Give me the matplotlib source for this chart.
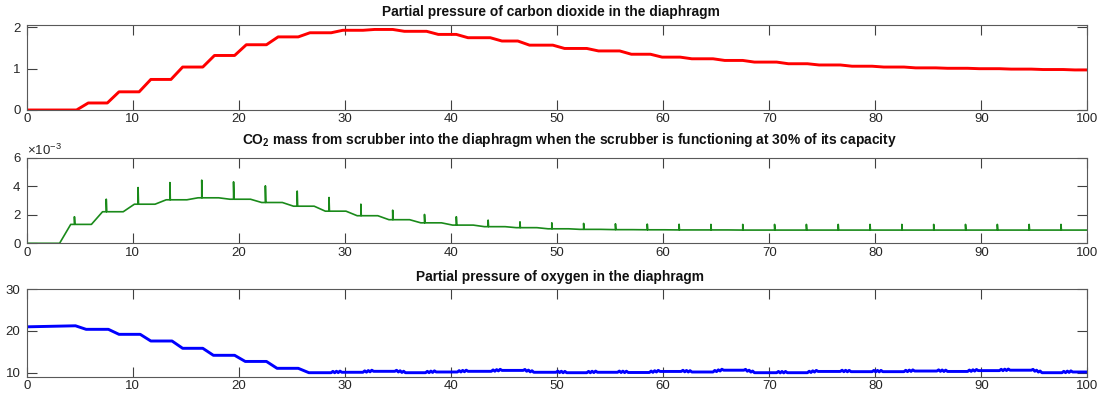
import matplotlib
matplotlib.use("Agg")
import matplotlib.pyplot as plt

plt.rcParams['font.family'] = ['Liberation Sans', 'DejaVu Sans']
plt.rcParams['mathtext.fontset'] = 'custom'
plt.rcParams['mathtext.rm'] = 'Liberation Sans'
plt.rcParams['mathtext.bf'] = 'Liberation Sans:bold'
plt.rcParams['mathtext.it'] = 'Liberation Sans:italic'

# ---------------- data ----------------
titles = [
    "Partial pressure of carbon dioxide in the diaphragm",
    r"CO$_\mathbf{2}$ mass from scrubber into the diaphragm when the scrubber is functioning at 30% of its capacity",
    "Partial pressure of oxygen in the diaphragm",
]
x_ticks = [0, 10, 20, 30, 40, 50, 60, 70, 80, 90, 100]

# CO2 partial pressure: level reached after each step
co2_start = 0.0
co2_step_t = [4.7, 7.6, 10.6, 13.6, 16.6, 19.6, 22.6, 25.6, 28.7, 31.7, 34.5, 37.7,
              40.5, 43.7, 46.3, 49.6, 52.8, 55.9, 58.8, 61.6, 64.7, 67.5, 70.7, 73.6,
              76.7, 79.7, 82.7, 85.7, 88.7, 91.7, 94.7, 97.7]
co2_levels = [0.17, 0.44, 0.74, 1.04, 1.32, 1.58, 1.77, 1.87, 1.93, 1.95, 1.905, 1.83,
              1.75, 1.67, 1.57, 1.49, 1.43, 1.35, 1.28, 1.24, 1.20, 1.16, 1.12, 1.09,
              1.06, 1.04, 1.02, 1.01, 1.00, 0.99, 0.98, 0.97]

# CO2 mass from scrubber (units of 1e-3)
mass_spike_t = [4.5, 7.5, 10.5, 13.5, 16.5, 19.5, 22.5, 25.5, 28.5, 31.5, 34.5, 37.5,
                40.5, 43.5, 46.5, 49.5, 52.5, 55.5, 58.5, 61.5, 64.5, 67.5, 70.5, 73.5,
                76.5, 79.5, 82.5, 85.5, 88.5, 91.5, 94.5, 97.5]
mass_base = [1.33, 2.22, 2.75, 3.06, 3.20, 3.10, 2.87, 2.61, 2.26, 1.94, 1.66, 1.44,
             1.28, 1.17, 1.10, 1.02, 0.98, 0.96, 0.95, 0.94, 0.94, 0.93, 0.93, 0.93,
             0.93, 0.93, 0.93, 0.93, 0.93, 0.93, 0.93, 0.93]
mass_peak = [1.87, 3.10, 3.92, 4.27, 4.44, 4.32, 4.04, 3.67, 3.22, 2.75, 2.33, 2.03,
             1.87, 1.63, 1.51, 1.44, 1.40, 1.37, 1.35, 1.34, 1.33, 1.33, 1.33, 1.33,
             1.33, 1.33, 1.33, 1.33, 1.33, 1.33, 1.33, 1.33]

# O2 partial pressure
o2_t0 = [0.0, 4.6]
o2_y0 = [21.0, 21.25]
o2_step_t = [4.6, 7.7, 10.7, 13.7, 16.6, 19.6, 22.6, 25.6]
o2_levels = [20.4, 19.2, 17.6, 15.85, 14.17, 12.7, 11.05, 10.0]
o2_tail_t = [28.7, 31.7, 34.7, 37.6, 40.6, 43.8, 46.8, 49.9, 52.8, 55.7, 58.7, 61.7,
             64.7, 67.6, 70.7, 73.6, 76.7, 79.7, 82.7, 85.8, 88.7, 91.7, 94.7, 97.6]
o2_tail_levels = [10.1, 10.33, 10.0, 10.17, 10.33, 10.55, 10.1, 10.0, 10.1, 10.05, 10.3, 10.17,
                  10.6, 10.0, 10.0, 10.3, 10.25, 10.25, 10.4, 10.3, 10.5, 10.6, 10.0, 10.17]
o2_jitter = [0.0, 0.3, -0.05, 0.3, -0.05, 0.3, 0.0]

# ---------------- build polylines ----------------
def steps(x0, y0, ts, levels, ramp):
    xs, ys = list(x0), list(y0)
    prev = ys[-1]
    for t, L in zip(ts, levels):
        xs += [t, t + ramp]
        ys += [prev, L]
        prev = L
    return xs, ys

co2_x, co2_y = steps([0.0], [co2_start], co2_step_t, co2_levels, 1.1)
co2_x.append(100); co2_y.append(co2_y[-1])

mass_x, mass_y = [0.0], [0.0]
prev = 0.0
for s, b, p in zip(mass_spike_t, mass_base, mass_peak):
    mass_x += [s - 1.4, s - 0.35, s, s, s + 0.04]
    mass_y += [prev, b, b, p, b]
    prev = b
mass_x.append(100); mass_y.append(prev)

o2_x, o2_y = steps(o2_t0, o2_y0, o2_step_t, o2_levels, 1.0)
prev = o2_y[-1]
n = len(o2_jitter) - 1
for t, L in zip(o2_tail_t, o2_tail_levels):
    for j, jit in enumerate(o2_jitter):
        o2_x.append(t + j * 1.0 / n)
        o2_y.append(prev + (L - prev) * j / n + jit)
    prev = L
o2_x.append(100); o2_y.append(prev)

# ---------------- figure ----------------
fig = plt.figure(figsize=(11.01, 3.96), dpi=100)
W, H = 1101, 396
def add_axes(left, top, right, bottom):
    return fig.add_axes([left / W, 1 - bottom / H, (right - left) / W, (bottom - top) / H])

ax1 = add_axes(26.7, 24.5, 1087.5, 110.0)
ax2 = add_axes(26.7, 158.0, 1087.5, 243.3)
ax3 = add_axes(26.7, 289.3, 1087.5, 376.7)

ax1.plot(co2_x, co2_y, color='#ff0000', lw=2.1, solid_joinstyle='round')
ax2.plot(mass_x, mass_y, color='#1a8a1a', lw=1.2)
ax3.plot(o2_x, o2_y, color='#0000ff', lw=2.1, solid_joinstyle='round')

def style(ax, ylim, yticks, title, pad, tx):
    ax.set_xlim(0, 100)
    ax.set_ylim(*ylim)
    ax.set_xticks(x_ticks)
    ax.set_yticks(yticks)
    ax.tick_params(direction='in', length=7, width=0.8, top=True, right=True,
                   color='#404040', labelcolor='#262626', labelsize=9.5)
    ax.tick_params(axis='x', pad=2.5)
    ax.tick_params(axis='y', pad=4.5)
    for sp in ax.spines.values():
        sp.set_color('#595959')
        sp.set_linewidth(0.8)
    ax.set_title(title, fontsize=9.9, fontweight='bold', pad=pad, color='#111111', x=tx)

style(ax1, (0, 2.07), [0, 1, 2], titles[0], 6.0, 0.494)
style(ax2, (0, 6), [0, 2, 4, 6], titles[1], 10.0, 0.512)
style(ax3, (9.04, 30), [10, 20, 30], titles[2], 6.0, 0.503)

ax2.text(0.0, 1.0, r'$\times10^{-3}$', transform=ax2.transAxes, fontsize=9.5,
         color='#262626', ha='left', va='bottom')

fig.savefig('out.png', dpi=100)
